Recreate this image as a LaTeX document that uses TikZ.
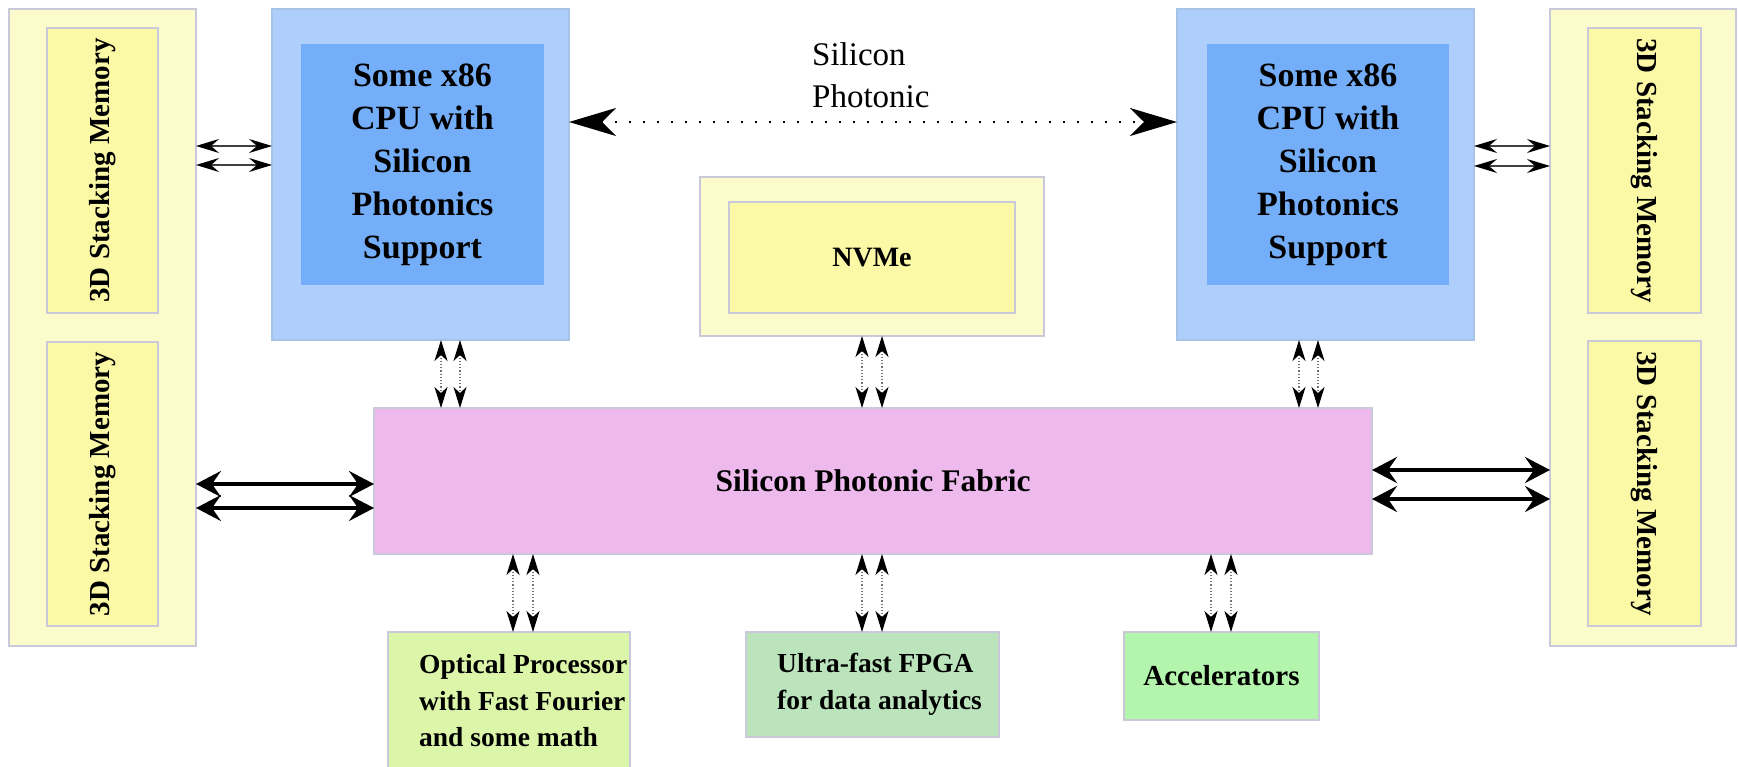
\documentclass[tikz,border=0pt]{standalone}
\usepackage{fontspec}
\setmainfont{Liberation Serif}
\usetikzlibrary{arrows.meta,calc}
\definecolor{yelo}{HTML}{FCFBCC}
\definecolor{yeli}{HTML}{FBF9A6}
\definecolor{cpuo}{HTML}{AECFFB}
\definecolor{cpui}{HTML}{74AEF8}
\definecolor{fabc}{HTML}{EEB9EC}
\definecolor{optc}{HTML}{DBF5A9}
\definecolor{fpgac}{HTML}{BBE4BC}
\definecolor{accc}{HTML}{B4F5AE}
\definecolor{bordc}{HTML}{C9C9DA}
\begin{document}
\begin{tikzpicture}[x=1pt,y=-1pt,
  box/.style={draw=bordc,line width=1.2pt,inner sep=0pt,outer sep=0pt},
  cpufont/.style={font=\fontsize{34}{43}\selectfont\bfseries,align=center},
  memfont/.style={font=\fontsize{29}{34}\selectfont\bfseries},
  lowfont/.style={font=\fontsize{27.5}{36.5}\selectfont\bfseries,align=left},
  thinarr/.style={{Stealth[length=23pt,width=14pt,inset=8pt,color=black]}-{Stealth[length=23pt,width=14pt,inset=8pt,color=black]},line width=1.6pt,draw=black!75},
  thickarr/.style={{Stealth[length=25pt,width=26pt,inset=9pt]}-{Stealth[length=25pt,width=26pt,inset=9pt]},line width=3.5pt,draw=black},
  varr/.style={{Stealth[length=21pt,width=13pt,inset=6pt,color=black]}-{Stealth[length=21pt,width=13pt,inset=6pt,color=black]},line width=1.2pt,draw=black!55,dash pattern=on 1.2pt off 2pt},
  bigdot/.style={{Stealth[length=47pt,width=28pt,inset=14pt]}-{Stealth[length=47pt,width=28pt,inset=14pt]},line width=2.6pt,draw=black,dash pattern=on 2.6pt off 11.4pt}
]
\useasboundingbox (0,0) rectangle (1738,767);
\clip (0,0) rectangle (1738,767);

% left memory
\node[box,fill=yelo,minimum width=187pt,minimum height=637pt] (memLo) at (102.5,327.5) {};
\node[box,fill=yeli,memfont,rotate=90,minimum width=285pt,minimum height=111pt] (memL1) at (102.5,170.5) {3D Stacking Memory};
\node[box,fill=yeli,memfont,rotate=90,minimum width=284pt,minimum height=111pt] (memL2) at (102.5,484) {3D Stacking Memory};

% right memory
\node[box,fill=yelo,minimum width=186pt,minimum height=637pt] (memRo) at (1643,327.5) {};
\node[box,fill=yeli,memfont,rotate=-90,minimum width=285pt,minimum height=113pt] (memR1) at (1644.5,170.5) {3D Stacking Memory};
\node[box,fill=yeli,memfont,rotate=-90,minimum width=285pt,minimum height=113pt] (memR2) at (1644.5,483.5) {3D Stacking Memory};

% CPUs
\node[box,draw=cpuo!85!gray,fill=cpuo,minimum width=297pt,minimum height=331pt] (cpuLo) at (420.5,174.5) {};
\node[box,draw=none,fill=cpui,cpufont,minimum width=243pt,minimum height=241pt] (cpuLi) at (422.5,164.5) {Some x86\\CPU with\\Silicon\\Photonics\\Support};
\node[box,draw=cpuo!85!gray,fill=cpuo,minimum width=297pt,minimum height=331pt] (cpuRo) at (1325.5,174.5) {};
\node[box,draw=none,fill=cpui,cpufont,minimum width=242pt,minimum height=241pt] (cpuRi) at (1328,164.5) {Some x86\\CPU with\\Silicon\\Photonics\\Support};

% NVMe
\node[box,fill=yelo,minimum width=344pt,minimum height=159pt] (nvmeO) at (872,256.5) {};
\node[box,fill=yeli,font=\fontsize{28}{34}\selectfont\bfseries,minimum width=286pt,minimum height=111pt] (nvmeI) at (872,257.5) {NVMe};

% fabric
\node[box,fill=fabc,font=\fontsize{31.5}{38}\selectfont\bfseries,minimum width=998pt,minimum height=146pt] (fab) at (873,481) {Silicon Photonic Fabric};

% lower boxes
\node[box,fill=optc,minimum width=242pt,minimum height=138pt] (opt) at (509,701) {};
\node[lowfont,anchor=west,inner sep=0pt] (optT) at ([xshift=31pt]opt.west) {Optical Processor\\with Fast Fourier\\and some math};
\node[box,fill=fpgac,minimum width=253pt,minimum height=105pt] (fpga) at (872.5,684.5) {};
\node[lowfont,anchor=west,inner sep=0pt] (fpgaT) at ([xshift=31pt]fpga.west) {Ultra-fast FPGA\\for data analytics};
\node[box,fill=accc,font=\fontsize{29}{36}\selectfont\bfseries,minimum width=195pt,minimum height=88pt] (acc) at (1221.5,676) {Accelerators};

% silicon photonic label
\node[font=\fontsize{33}{42}\selectfont,align=left,anchor=west,inner sep=0pt] (spl) at (812,75) {Silicon\\Photonic};

% connectors
\draw[bigdot] ([yshift=52.5pt]cpuLo.east) -- ([yshift=52.5pt]cpuRo.west);

\draw[thinarr] ([yshift=28.5pt]cpuLo.west -| memLo.east) -- ([yshift=28.5pt]cpuLo.west);
\draw[thinarr] ([yshift=9.5pt]cpuLo.west -| memLo.east) -- ([yshift=9.5pt]cpuLo.west);
\draw[thinarr] ([yshift=28.5pt]cpuRo.east) -- ([yshift=28.5pt]cpuRo.east -| memRo.west);
\draw[thinarr] ([yshift=8.5pt]cpuRo.east) -- ([yshift=8.5pt]cpuRo.east -| memRo.west);

\draw[thickarr] ([yshift=-3pt]fab.west -| memLo.east) -- ([yshift=-3pt]fab.west);
\draw[thickarr] ([yshift=-27pt]fab.west -| memLo.east) -- ([yshift=-27pt]fab.west);
\draw[thickarr] ([yshift=11pt]fab.east) -- ([yshift=11pt]fab.east -| memRo.west);
\draw[thickarr] ([yshift=-18pt]fab.east) -- ([yshift=-18pt]fab.east -| memRo.west);

\draw[varr] ([xshift=20.5pt]cpuLo.south) -- ([xshift=20.5pt]cpuLo.south |- fab.north);
\draw[varr] ([xshift=39.5pt]cpuLo.south) -- ([xshift=39.5pt]cpuLo.south |- fab.north);
\draw[varr] ([xshift=-10pt]nvmeO.south) -- ([xshift=-10pt]nvmeO.south |- fab.north);
\draw[varr] ([xshift=10pt]nvmeO.south) -- ([xshift=10pt]nvmeO.south |- fab.north);
\draw[varr] ([xshift=-26.5pt]cpuRo.south) -- ([xshift=-26.5pt]cpuRo.south |- fab.north);
\draw[varr] ([xshift=-7.5pt]cpuRo.south) -- ([xshift=-7.5pt]cpuRo.south |- fab.north);

\draw[varr] ([xshift=4pt]opt.north |- fab.south) -- ([xshift=4pt]opt.north);
\draw[varr] ([xshift=24pt]opt.north |- fab.south) -- ([xshift=24pt]opt.north);
\draw[varr] ([xshift=-10.5pt]fpga.north |- fab.south) -- ([xshift=-10.5pt]fpga.north);
\draw[varr] ([xshift=9.5pt]fpga.north |- fab.south) -- ([xshift=9.5pt]fpga.north);
\draw[varr] ([xshift=-10.5pt]acc.north |- fab.south) -- ([xshift=-10.5pt]acc.north);
\draw[varr] ([xshift=9.5pt]acc.north |- fab.south) -- ([xshift=9.5pt]acc.north);
\end{tikzpicture}
\end{document}
